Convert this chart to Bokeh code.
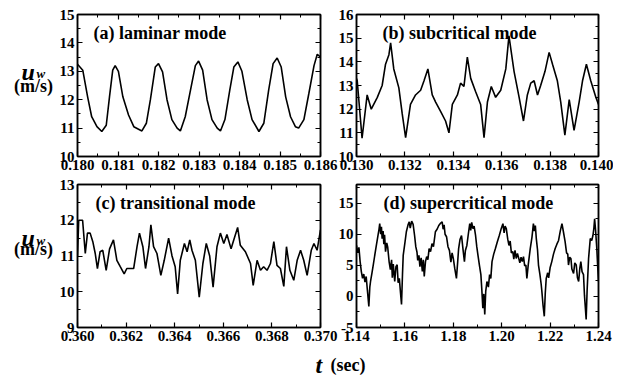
from bokeh.plotting import figure
from bokeh.models import Label, LinearAxis, FixedTicker, NumeralTickFormatter, Range1d
from bokeh.layouts import column, row
from bokeh.embed import file_html
from bokeh.resources import INLINE

FONT = "Liberation Serif"

# ---------------- data ----------------
# (a) laminar mode
T_A = [0.18000, 0.18013, 0.18025, 0.18035, 0.18048, 0.18060, 0.18071, 0.18079, 0.18087, 0.18093,
       0.18101, 0.18112, 0.18126, 0.18139, 0.18159, 0.18170, 0.18180, 0.18192, 0.18200, 0.18210,
       0.18221, 0.18233, 0.18246, 0.18254, 0.18266, 0.18279, 0.18291, 0.18299, 0.18309, 0.18320,
       0.18332, 0.18345, 0.18353, 0.18364, 0.18376, 0.18386, 0.18396, 0.18406, 0.18419, 0.18431,
       0.18448, 0.18460, 0.18472, 0.18483, 0.18493, 0.18503, 0.18514, 0.18526, 0.18538, 0.18546,
       0.18559, 0.18571, 0.18584, 0.18592, 0.18600]
U_A = [13.25, 13.04, 12.1, 11.4, 11.05, 10.88, 11.1, 12.1, 13.04, 13.2,
       13.0, 12.1, 11.46, 11.05, 10.9, 11.17, 12.0, 13.15, 13.27, 12.98,
       12.0, 11.3, 11.0, 10.9, 11.4, 12.34, 13.2, 13.36, 13.04, 12.0,
       11.3, 11.0, 10.9, 11.3, 12.34, 13.15, 13.33, 13.0, 12.0, 11.3,
       10.88, 11.17, 12.34, 13.27, 13.47, 13.15, 12.1, 11.4, 11.05, 11.0,
       11.3, 12.2, 13.2, 13.6, 13.5]

# (b) subcritical mode
T_B = [0.13000, 0.13003, 0.13023, 0.13044, 0.13061, 0.13086, 0.13106, 0.13120, 0.13134, 0.13141,
       0.13154, 0.13175, 0.13189, 0.13203, 0.13223, 0.13244, 0.13265, 0.13279, 0.13295, 0.13313,
       0.13327, 0.13348, 0.13368, 0.13382, 0.13396, 0.13417, 0.13430, 0.13444, 0.13458, 0.13472,
       0.13492, 0.13513, 0.13527, 0.13541, 0.13557, 0.13575, 0.13596, 0.13617, 0.13630, 0.13651,
       0.13672, 0.13690, 0.13706, 0.13720, 0.13734, 0.13748, 0.13761, 0.13779, 0.13796, 0.13810,
       0.13830, 0.13844, 0.13861, 0.13879, 0.13899, 0.13920, 0.13934, 0.13950, 0.13968, 0.13989,
       0.14000]
U_B = [13.3, 13.2, 10.77, 12.6, 12.0, 12.5, 13.0, 13.9, 14.3, 14.8,
       13.7, 12.9, 11.8, 10.8, 12.2, 12.6, 12.8, 13.2, 13.7, 12.6,
       12.3, 11.9, 11.5, 11.0, 12.2, 12.6, 13.1, 12.96, 14.2, 13.3,
       12.75, 12.2, 10.8, 12.3, 12.96, 12.5, 12.8, 13.7, 15.1, 13.6,
       12.5, 11.5, 12.6, 13.1, 13.2, 12.6, 13.0, 13.6, 14.4, 13.9,
       13.2, 12.3, 10.9, 12.4, 11.1, 12.3, 13.2, 13.9, 13.2, 12.5,
       12.2]

# (c) transitional mode
T_C = [0.36000, 0.36005, 0.36021, 0.36032, 0.36041, 0.36052, 0.36063, 0.36073, 0.36082, 0.36093,
       0.36104, 0.36118, 0.36132, 0.36148, 0.36162, 0.36176, 0.36192, 0.36203, 0.36217, 0.36231,
       0.36245, 0.36255, 0.36269, 0.36280, 0.36294, 0.36302, 0.36313, 0.36327, 0.36343, 0.36357,
       0.36375, 0.36389, 0.36402, 0.36412, 0.36423, 0.36440, 0.36451, 0.36462, 0.36471, 0.36485,
       0.36501, 0.36516, 0.36530, 0.36544, 0.36558, 0.36574, 0.36588, 0.36602, 0.36615, 0.36632,
       0.36643, 0.36659, 0.36670, 0.36691, 0.36712, 0.36723, 0.36739, 0.36753, 0.36766, 0.36780,
       0.36794, 0.36808, 0.36821, 0.36835, 0.36849, 0.36860, 0.36874, 0.36890, 0.36904, 0.36918,
       0.36931, 0.36945, 0.36962, 0.36973, 0.36986, 0.37000]
U_C = [11.0, 12.0, 12.0, 11.07, 11.64, 11.64, 11.4, 11.07, 10.65, 11.12,
       11.16, 10.6, 11.2, 11.45, 10.88, 10.7, 10.5, 10.65, 10.65, 10.65,
       11.26, 11.64, 11.26, 10.65, 11.26, 11.87, 11.26, 11.07, 10.46, 10.88,
       11.5, 11.0, 10.7, 9.94, 10.88, 11.35, 11.12, 11.45, 11.16, 10.88,
       9.85, 10.79, 11.35, 11.0, 10.13, 11.26, 11.64, 11.35, 11.6, 11.2,
       11.45, 11.8, 11.3, 11.12, 10.79, 10.18, 10.88, 10.6, 10.7, 10.6,
       10.79, 11.4, 10.74, 10.65, 10.15, 11.26, 10.6, 10.32, 10.88, 11.16,
       10.88, 10.46, 11.16, 11.35, 11.16, 11.73]

# (d) supercritical mode
T_D = [1.1400, 1.1405, 1.1410, 1.1415, 1.1420, 1.1425, 1.1430, 1.1435, 1.1440, 1.1445,
       1.1451, 1.1455, 1.1458, 1.1464, 1.1469, 1.1475, 1.1482, 1.1488, 1.1493, 1.1496,
       1.1500, 1.1503, 1.1506, 1.1510, 1.1513, 1.1516, 1.1520, 1.1525, 1.1529, 1.1535,
       1.1540, 1.1545, 1.1548, 1.1552, 1.1558, 1.1563, 1.1568, 1.1572, 1.1577, 1.1582,
       1.1586, 1.1590, 1.1593, 1.1600, 1.1606, 1.1613, 1.1618, 1.1622, 1.1628, 1.1634,
       1.1640, 1.1645, 1.1650, 1.1653, 1.1658, 1.1662, 1.1667, 1.1672, 1.1676, 1.1680,
       1.1685, 1.1690, 1.1695, 1.1700, 1.1706, 1.1712, 1.1718, 1.1726, 1.1733, 1.1740,
       1.1748, 1.1754, 1.1758, 1.1762, 1.1766, 1.1772, 1.1778, 1.1784, 1.1790, 1.1795,
       1.1800, 1.1806, 1.1813, 1.1818, 1.1822, 1.1828, 1.1834, 1.1840, 1.1846, 1.1850,
       1.1856, 1.1862, 1.1868, 1.1872, 1.1876, 1.1881, 1.1886, 1.1892, 1.1897, 1.1902,
       1.1908, 1.1914, 1.1918, 1.1922, 1.1926, 1.1930, 1.1934, 1.1939, 1.1945, 1.1950,
       1.1955, 1.1960, 1.1967, 1.1974, 1.1982, 1.1990, 1.1998, 1.2005, 1.2010, 1.2014,
       1.2019, 1.2025, 1.2030, 1.2035, 1.2040, 1.2046, 1.2050, 1.2055, 1.2060, 1.2065,
       1.2070, 1.2075, 1.2080, 1.2085, 1.2090, 1.2095, 1.2100, 1.2104, 1.2110, 1.2118,
       1.2125, 1.2131, 1.2135, 1.2139, 1.2143, 1.2148, 1.2152, 1.2158, 1.2163, 1.2166,
       1.2171, 1.2176, 1.2180, 1.2184, 1.2190, 1.2194, 1.2200, 1.2207, 1.2214, 1.2221,
       1.2228, 1.2235, 1.2242, 1.2249, 1.2255, 1.2262, 1.2268, 1.2273, 1.2276, 1.2281,
       1.2286, 1.2290, 1.2297, 1.2302, 1.2308, 1.2313, 1.2318, 1.2323, 1.2327, 1.2332,
       1.2338, 1.2342, 1.2346, 1.2349, 1.2353, 1.2359, 1.2366, 1.2372, 1.2377, 1.2381,
       1.2384, 1.2388, 1.2393, 1.2397, 1.2400]
U_D = [8.2, 7.0, 7.9, 5.6, 4.0, 2.9, 3.6, 2.3, 3.2, 1.0,
       -1.6, 1.5, 2.4, 3.8, 5.0, 6.5, 8.2, 9.6, 10.8, 11.7,
       10.0, 11.2, 9.3, 10.5, 8.4, 9.9, 7.2, 8.6, 7.9, 5.5,
       4.3, 5.9, 3.0, 5.2, 2.4, 4.8, 5.1, 2.2, 2.9, 0.5,
       -1.3, 3.5, 6.6, 8.6, 10.4, 11.5, 12.0, 11.0, 12.1, 11.6,
       9.8, 8.0, 7.1, 5.8, 6.6, 4.8, 6.2, 4.0, 5.9, 3.2,
       5.6, 6.4, 5.9, 7.7, 7.2, 8.5, 8.0, 10.4, 10.8, 11.4,
       11.8, 12.0, 10.8, 11.5, 10.0, 9.6, 8.0, 7.4, 5.5, 7.0,
       6.1, 4.5, 2.9, 5.5, 7.7, 9.2, 9.8, 7.6, 5.6, 7.4,
       8.2, 10.0, 11.7, 10.6, 11.9, 10.9, 11.3, 9.8, 8.0, 6.6,
       5.0, 3.5, 1.0, -1.9, 0.4, -2.9, 0.8, 2.4, 1.5, 3.5,
       2.9, 5.6, 6.8, 7.7, 8.8, 9.8, 10.9, 11.7, 10.2, 11.3,
       10.9, 9.2, 8.2, 8.9, 7.0, 7.2, 6.0, 7.4, 6.1, 6.9,
       6.2, 5.4, 6.3, 5.6, 6.4, 4.9, 5.05, 2.9, 5.2, 7.7,
       9.5, 11.7, 10.5, 11.4, 9.3, 7.5, 5.05, 3.5, 2.0, 0.8,
       -1.5, -3.2, 0.5, 2.9, 3.8, 3.0, 4.6, 5.6, 6.8, 7.7,
       8.4, 9.0, 10.5, 11.7, 10.4, 8.8, 7.0, 6.8, 5.05, 6.3,
       6.1, 4.4, 3.7, 5.4, 5.05, 3.0, 2.4, 4.6, 5.6, 4.0,
       3.5, 0.2, -2.0, -3.7, 1.0, 6.1, 9.3, 9.0, 9.8, 11.0,
       12.5, 10.6, 7.7, 4.5, 2.4]

# axis ranges and ticks
X_RANGE_A, Y_RANGE_A = (0.180, 0.186), (10, 15)
X_RANGE_B, Y_RANGE_B = (0.130, 0.140), (10, 16)
X_RANGE_C, Y_RANGE_C = (0.360, 0.370), (9, 13)
X_RANGE_D, Y_RANGE_D = (1.14, 1.24), (-5, 18)

X_TICKS_A = [0.180, 0.181, 0.182, 0.183, 0.184, 0.185, 0.186]
X_TICKS_B = [0.130, 0.132, 0.134, 0.136, 0.138, 0.140]
X_TICKS_C = [0.360, 0.362, 0.364, 0.366, 0.368, 0.370]
X_TICKS_D = [1.14, 1.16, 1.18, 1.20, 1.22, 1.24]
Y_TICKS_A = [10, 11, 12, 13, 14, 15]
Y_TICKS_B = [10, 11, 12, 13, 14, 15, 16]
Y_TICKS_C = [9, 10, 11, 12, 13]
Y_TICKS_D = [-5, 0, 5, 10, 15]

TITLES = ["(a) laminar mode", "(b) subcritical mode",
          "(c) transitional mode", "(d) supercritical mode"]
Y_LABEL_MAIN, Y_LABEL_SUB, Y_LABEL_UNIT = "u", "w", "(m/s)"
X_LABEL_MAIN, X_LABEL_UNIT = "t", "(sec)"


def minor(major, n, extra=()):
    out = []
    step = (major[1] - major[0]) / n
    for m in major:
        for k in range(1, n):
            out.append(round(m + k * step, 7))
    return out + list(extra)


def panel(t, u, xr, yr, xt, yt, xfmt, title, w, h, mbl, mbr, mbt, mbb, tx,
          yextra=(), margin=None):
    p = figure(width=w, height=h, x_range=Range1d(*xr), y_range=Range1d(*yr),
               x_axis_type=None, y_axis_type=None, output_backend="svg",
               toolbar_location=None, min_border_left=mbl, min_border_right=mbr,
               min_border_top=mbt, min_border_bottom=mbb,
               outline_line_color="black", outline_line_width=1.5,
               background_fill_color="white", border_fill_color=None)
    if margin is not None:
        p.margin = margin
    xmin, ymin = minor(xt, 2), minor(yt, 2, yextra)
    specs = [("below", xt, xmin, True, xfmt),
             ("above", xt, xmin, False, xfmt),
             ("left", yt, ymin, True, "0"),
             ("right", yt, ymin, False, "0")]
    for loc, mj, mn, show, fmt in specs:
        ax = LinearAxis(ticker=FixedTicker(ticks=mj, minor_ticks=mn),
                        formatter=NumeralTickFormatter(format=fmt))
        ax.axis_line_color = "black"
        ax.axis_line_width = 1.5
        ax.major_tick_in = 5
        ax.major_tick_out = 0
        ax.minor_tick_in = 3
        ax.minor_tick_out = 0
        ax.major_tick_line_color = "black"
        ax.major_tick_line_width = 1.2
        ax.minor_tick_line_color = "black"
        ax.minor_tick_line_width = 1.0
        ax.axis_label_standoff = 0
        ax.major_label_text_font = FONT
        ax.major_label_text_font_style = "bold"
        if show:
            ax.major_label_text_font_size = "15px"
            ax.major_label_standoff = 3
            ax.major_label_text_color = "black"
        else:
            ax.major_label_text_font_size = "1px"
            ax.major_label_standoff = 0
            ax.major_label_text_color = None
        p.add_layout(ax, loc)
    p.line(t, u, line_color="black", line_width=1.6)
    frame_h = h - mbt - mbb
    p.add_layout(Label(x=tx, y=frame_h - 8, x_units="screen", y_units="screen",
                       text=title, text_font=FONT, text_font_size="18px",
                       text_font_style="bold", text_color="black", text_baseline="top"))
    return p


def text_fig(w, h, margin=None):
    f = figure(width=w, height=h, x_range=Range1d(0, w), y_range=Range1d(0, h),
               x_axis_type=None, y_axis_type=None, output_backend="svg",
               toolbar_location=None, min_border=0, outline_line_color=None,
               background_fill_color=None, border_fill_color=None)
    if margin is not None:
        f.margin = margin
    return f


def ylabel_fig(h, yu, ym):
    f = text_fig(49, h)
    f.add_layout(Label(x=13, y=yu, text=Y_LABEL_MAIN, text_font=FONT,
                       text_font_style="bold italic", text_font_size="24px",
                       text_color="black", text_baseline="alphabetic"))
    f.add_layout(Label(x=28, y=yu - 3, text=Y_LABEL_SUB, text_font=FONT,
                       text_font_style="bold italic", text_font_size="13px",
                       text_color="black", text_baseline="alphabetic"))
    f.add_layout(Label(x=25, y=ym, text=Y_LABEL_UNIT, text_font=FONT,
                       text_font_style="bold", text_font_size="18px", text_color="black",
                       text_align="center", text_baseline="alphabetic"))
    return f


# top row: frames at y 14..156 ; bottom row: frames at y 184..327 (page pixels)
pa = panel(T_A, U_A, X_RANGE_A, Y_RANGE_A, X_TICKS_A, Y_TICKS_A, "0.000", TITLES[0],
           295, 184, 34, 18, 8, 34, 16, margin=(0, 0, 0, -14))
pb = panel(T_B, U_B, X_RANGE_B, Y_RANGE_B, X_TICKS_B, Y_TICKS_B, "0.000", TITLES[1],
           291, 184, 34, 15, 8, 34, 26, margin=(0, 0, 0, -16))
pc = panel(T_C, U_C, X_RANGE_C, Y_RANGE_C, X_TICKS_C, Y_TICKS_C, "0.000", TITLES[2],
           295, 185, 34, 18, 8, 34, 18, margin=(0, 0, 0, -14))
pd = panel(T_D, U_D, X_RANGE_D, Y_RANGE_D, X_TICKS_D, Y_TICKS_D, "0.00", TITLES[3],
           291, 185, 34, 15, 8, 34, 27, yextra=(17.5,), margin=(0, 0, 0, -16))

la = ylabel_fig(184, 110, 91)
lc = ylabel_fig(185, 116, 101)

pl = text_fig(605, 32, margin=(-16, 0, 0, 0))
pl.add_layout(Label(x=307, y=13, text=X_LABEL_MAIN, text_font=FONT,
                    text_font_style="bold italic", text_font_size="24px",
                    text_color="black", text_baseline="middle"))
pl.add_layout(Label(x=322, y=13, text=X_LABEL_UNIT, text_font=FONT,
                    text_font_style="bold", text_font_size="18px", text_color="black",
                    text_baseline="middle"))

top = row(la, pa, pb)
bottom = row(lc, pc, pd, margin=(-14, 0, 0, 0))
layout = column(top, bottom, pl, margin=(6, 0, 0, 8))
open("out.html", "w").write(file_html(layout, INLINE))
